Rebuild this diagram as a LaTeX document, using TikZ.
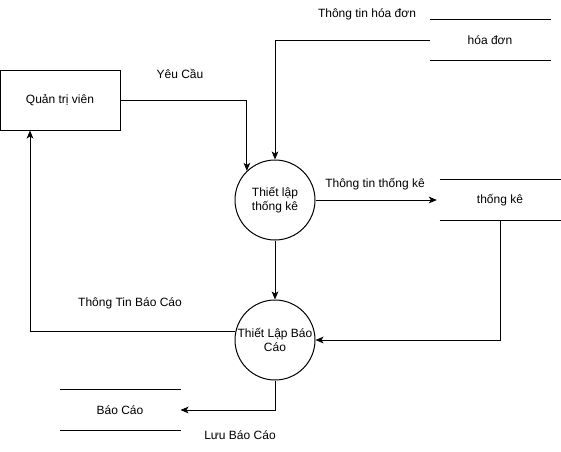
\documentclass[tikz,border=0pt]{standalone}
\usepackage{fontspec}
\setmainfont{Liberation Sans}
\usetikzlibrary{arrows.meta}

\tikzset{
	proc/.style={circle,draw,minimum size=60pt,inner sep=0pt,align=center},
	store/.style={minimum width=90pt,minimum height=30pt,inner sep=0pt},
	lbl/.style={inner sep=0pt}
}

\begin{document}
\begin{tikzpicture}[x=0.75pt,y=-0.75pt,line width=0.75pt,
		font=\fontsize{9}{11}\selectfont,
		>={Stealth[length=6pt,width=5pt,inset=1.5pt]}]
		\useasboundingbox (0,0) rectangle (561,451);
		
		\node[draw,minimum width=90pt,minimum height=45pt,inner sep=0pt](admin) at (60,100) {Quản trị viên};
		\node[proc](tk) at (275,200) {Thiết lập\\thống kê};
		\node[proc](bc) at (275,340) {Thiết Lập Báo\\Cáo};
		\node[store](hd) at (490,40) {hóa đơn};
		\node[store](skt) at (500,200) {thống kê};
		\node[store](sbc) at (120,410) {Báo Cáo};
		
		\draw
		(hd.north west)--(hd.north east) (hd.south west)--(hd.south east)
		(skt.north west)--(skt.north east) (skt.south west)--(skt.south east)
		(sbc.north west)--(sbc.north east) (sbc.south west)--(sbc.south east);
		
		\draw[->] (admin.east) -| (tk.134);
		\draw[->] (hd.west) -| (tk.north);
		\draw[->] (tk.east) -- ([xshift=-2pt]skt.west);
		\draw[->] (tk.south) -- (bc.north);
		\draw[->] (skt.south) |- (bc.east);
		\draw[->] (bc.168) -| ([xshift=-22.5pt]admin.south);
		\draw[->] (bc.south) |- (sbc.east);
		
		\node[lbl](l1) at (180,74) {Yêu Cầu};
		\node[lbl](l2) at (367,14) {Thông tin hóa đơn};
		\node[lbl](l3) at (375,184) {Thông tin thống kê};
		\node[lbl](l4) at (130,303) {Thông Tin Báo Cáo};
		\node[lbl](l5) at (240,435) {Lưu Báo Cáo};
\end{tikzpicture}
\end{document}
